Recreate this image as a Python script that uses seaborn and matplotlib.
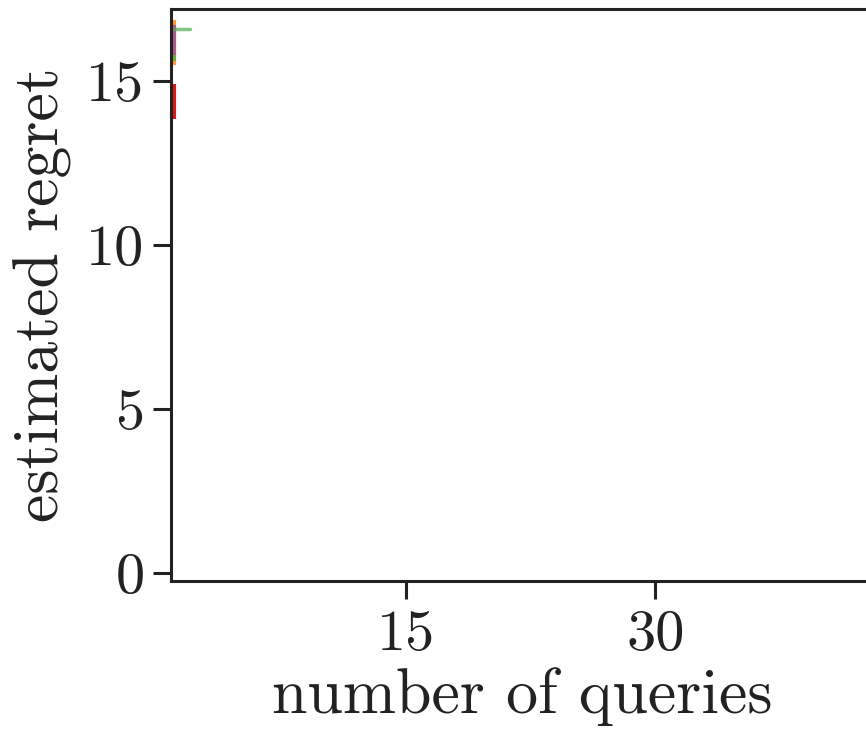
import matplotlib
matplotlib.use("Agg")
import matplotlib.pyplot as plt
import seaborn as sns
import pandas as pd

# data
series = ["orange", "purple", "green", "red"]
queries = {"orange": [1], "purple": [1], "green": [1, 2], "red": [1]}
mean_regret = {"orange": [16.72], "purple": [16.3], "green": [16.6, 16.6], "red": [14.4]}
low_regret = {"orange": [15.5], "purple": [15.8], "green": [15.6, 16.6], "red": [13.85]}
high_regret = {"orange": [16.85], "purple": [16.7], "green": [15.8, 16.6], "red": [14.9]}
colors = {"orange": "#ff7f00", "purple": "#984ea3", "green": "#4daf4a", "red": "#d7191c"}

xticks = [15, 30]
yticks = [0, 5, 10, 15]

sns.set_theme(style="ticks")
plt.rcParams["font.family"] = ["serif"]
plt.rcParams["font.serif"] = ["cmr10"]
plt.rcParams["mathtext.fontset"] = "cm"
plt.rcParams["axes.formatter.use_mathtext"] = True

fig = plt.figure(figsize=(8.66, 7.39), dpi=100)
left_px, right_px = 171, 873
ax = fig.add_axes([left_px / 866, 158 / 739, (right_px - left_px) / 866, 572 / 739])

rows = []
for s in series:
    for x, m in zip(queries[s], mean_regret[s]):
        rows.append({"series": s, "queries": x, "regret": m})
df = pd.DataFrame(rows)

for s in ["orange", "purple", "green", "red"]:
    xs = queries[s]
    ax.vlines(xs[0], low_regret[s][0], high_regret[s][0], color=colors[s],
              lw=3, alpha=1.0 if s == "red" else 0.8, zorder=2)
sns.lineplot(data=df, x="queries", y="regret", hue="series", palette=colors, legend=False,
             ax=ax, lw=2.5, alpha=0.7)

ax.set_xlim(0.84, 43.1)
ax.set_ylim(-0.25, 17.2)
ax.set_xticks(xticks)
ax.set_yticks(yticks)
ax.set_xticklabels([str(t) for t in xticks])
ax.set_yticklabels([str(t) for t in yticks])
ax.tick_params(axis="both", labelsize=42, length=13, width=2.2, colors="#222222", pad=6)
ax.tick_params(axis="x", pad=8)
for sp in ax.spines.values():
    sp.set_linewidth(2.2)
    sp.set_color("#222222")
ax.set_xlabel("number of queries", fontsize=46, color="#222222", labelpad=4)
ax.set_ylabel("estimated regret", fontsize=46, color="#222222", labelpad=10)

fig.savefig("out.png", dpi=100)
